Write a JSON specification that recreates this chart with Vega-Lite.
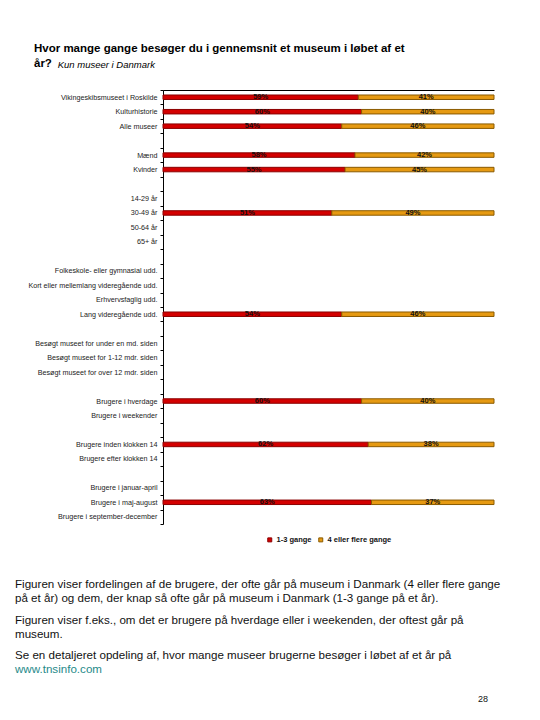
{
  "$schema": "https://vega.github.io/schema/vega-lite/v6.json",
  "padding": {"left": 15, "top": 42, "right": 5, "bottom": 5},
  "title": {
    "text": ["Hvor mange gange besøger du i gennemsnit et museum i løbet af et", "år?"],
    "subtitle": "\u200b\u00a0\u00a0\u00a0\u00a0\u00a0\u00a0\u00a0\u00a0\u00a0Kun museer i Danmark",
    "anchor": "start",
    "frame": "bounds",
    "dx": 19,
    "font": "Liberation Sans",
    "fontSize": 11.5,
    "fontWeight": "bold",
    "lineHeight": 15.6,
    "color": "#000",
    "subtitleFont": "Liberation Sans",
    "subtitleFontStyle": "italic",
    "subtitleFontSize": 9.5,
    "subtitleColor": "#000",
    "subtitlePadding": -10,
    "offset": 16
  },
  "config": {
    "view": {"stroke": null},
    "font": "Liberation Sans",
    "legend": {"layout": {"bottom": {"anchor": "middle"}}}
  },
  "spacing": 35,
  "resolve": {"legend": {"color": "independent", "stroke": "independent"}},
  "vconcat": [
    {
      "width": 331,
      "height": 434,
      "data": {
        "values": [
          {"cat": "Vikingeskibsmuseet i Roskilde", "grp": "1-3 gange", "pct": 0.59},
          {"cat": "Vikingeskibsmuseet i Roskilde", "grp": "4 eller flere gange", "pct": 0.41},
          {"cat": "Kulturhistorie", "grp": "1-3 gange", "pct": 0.60},
          {"cat": "Kulturhistorie", "grp": "4 eller flere gange", "pct": 0.40},
          {"cat": "Alle museer", "grp": "1-3 gange", "pct": 0.54},
          {"cat": "Alle museer", "grp": "4 eller flere gange", "pct": 0.46},
          {"cat": "Mænd", "grp": "1-3 gange", "pct": 0.58},
          {"cat": "Mænd", "grp": "4 eller flere gange", "pct": 0.42},
          {"cat": "Kvinder", "grp": "1-3 gange", "pct": 0.55},
          {"cat": "Kvinder", "grp": "4 eller flere gange", "pct": 0.45},
          {"cat": "30-49 år", "grp": "1-3 gange", "pct": 0.51},
          {"cat": "30-49 år", "grp": "4 eller flere gange", "pct": 0.49},
          {"cat": "Lang videregående udd.", "grp": "1-3 gange", "pct": 0.54},
          {"cat": "Lang videregående udd.", "grp": "4 eller flere gange", "pct": 0.46},
          {"cat": "Brugere i hverdage", "grp": "1-3 gange", "pct": 0.60},
          {"cat": "Brugere i hverdage", "grp": "4 eller flere gange", "pct": 0.40},
          {"cat": "Brugere inden klokken 14", "grp": "1-3 gange", "pct": 0.62},
          {"cat": "Brugere inden klokken 14", "grp": "4 eller flere gange", "pct": 0.38},
          {"cat": "Brugere i maj-august", "grp": "1-3 gange", "pct": 0.63},
          {"cat": "Brugere i maj-august", "grp": "4 eller flere gange", "pct": 0.37}
        ]
      },
      "transform": [
        {"stack": "pct", "groupby": ["cat"], "sort": [{"field": "grp", "order": "ascending"}], "as": ["x0", "x1"]},
        {"calculate": "(datum.x0 + datum.x1) / 2", "as": "mid"}
      ],
      "encoding": {
        "y": {
          "field": "cat",
          "type": "nominal",
          "title": null,
          "scale": {
            "type": "band",
            "domain": ["Vikingeskibsmuseet i Roskilde", "Kulturhistorie", "Alle museer", " ", "Mænd", "Kvinder", "  ", "14-29 år", "30-49 år", "50-64 år", "65+ år", "   ", "Folkeskole- eller gymnasial udd.", "Kort eller mellemlang videregående udd.", "Erhvervsfaglig udd.", "Lang videregående udd.", "    ", "Besøgt museet for under en md. siden", "Besøgt museet for 1-12 mdr. siden", "Besøgt museet for over 12 mdr. siden", "     ", "Brugere i hverdage", "Brugere i weekender", "      ", "Brugere inden klokken 14", "Brugere efter klokken 14", "       ", "Brugere i januar-april", "Brugere i maj-august", "Brugere i september-december"],
            "paddingInner": 0,
            "paddingOuter": 0
          },
          "axis": {
            "domainColor": "#000",
            "tickColor": "#000",
            "tickSize": 3,
            "tickBand": "extent",
            "labelPadding": 3,
            "labelFontSize": 7.2,
            "labelColor": "#222",
            "labelLimit": 200,
            "grid": false
          }
        }
      },
      "layer": [
        {
          "mark": {"type": "bar", "strokeWidth": 1, "height": {"band": 0.31}},
          "encoding": {
            "x": {
              "field": "x0",
              "type": "quantitative",
              "scale": {"domain": [0, 1], "nice": false},
              "axis": {"orient": "top", "labels": false, "ticks": false, "grid": false, "title": null, "domainColor": "#000"}
            },
            "x2": {"field": "x1"},
            "color": {
              "field": "grp",
              "type": "nominal",
              "scale": {"domain": ["1-3 gange", "4 eller flere gange"], "range": ["#d40000", "#e69a12"]},
              "legend": {
                "orient": "bottom",
                "direction": "horizontal",
                "title": null,
                "symbolType": "square",
                "symbolSize": 16,
                "symbolStrokeWidth": 1,
                "labelFontSize": 7.5,
                "labelFontWeight": "bold",
                "labelColor": "#111",
                "labelOffset": 3,
                "columnPadding": 4,
                "offset": 12
              }
            },
            "stroke": {
              "field": "grp",
              "type": "nominal",
              "scale": {"domain": ["1-3 gange", "4 eller flere gange"], "range": ["#8b0000", "#8a5a00"]},
              "legend": null
            }
          }
        },
        {
          "mark": {"type": "text", "fontSize": 7.5, "fontWeight": "bold", "color": "#111", "baseline": "middle"},
          "encoding": {
            "x": {"field": "mid", "type": "quantitative"},
            "y": {"field": "cat", "type": "nominal", "bandPosition": 0.5},
            "text": {"field": "pct", "type": "quantitative", "format": ".0%"}
          }
        }
      ]
    },
    {
      "width": 325,
      "height": 71,
      "data": {
        "values": [
          {"para": 1, "kind": "tekst", "txt": "Figuren viser fordelingen af de brugere, der ofte går på museum i Danmark (4 eller flere gange\npå et år) og dem, der knap så ofte går på museum i Danmark (1-3 gange på et år)."},
          {"para": 2, "kind": "tekst", "txt": "Figuren viser f.eks., om det er brugere på hverdage eller i weekenden, der oftest går på\nmuseum."},
          {"para": 3, "kind": "tekst", "txt": "Se en detaljeret opdeling af, hvor mange museer brugerne besøger i løbet af et år på"},
          {"para": 3, "kind": "link", "txt": "\nwww.tnsinfo.com"}
        ]
      },
      "mark": {"type": "text", "align": "left", "baseline": "top", "dx": -148, "fontSize": 11.6, "lineBreak": "\n", "lineHeight": 14},
      "encoding": {
        "x": {"datum": 0, "type": "quantitative", "scale": {"domain": [0, 1]}, "axis": null},
        "y": {"field": "para", "type": "ordinal", "axis": null, "scale": {"type": "point", "padding": 0}},
        "text": {"field": "txt"},
        "color": {"condition": {"test": "datum.kind === 'link'", "value": "#1f8a8a"}, "value": "#111111"}
      },
      "title": {"text": "28", "orient": "bottom", "anchor": "end", "frame": "group", "fontSize": 9, "fontWeight": "normal", "color": "#111", "offset": 19}
    }
  ]
}
